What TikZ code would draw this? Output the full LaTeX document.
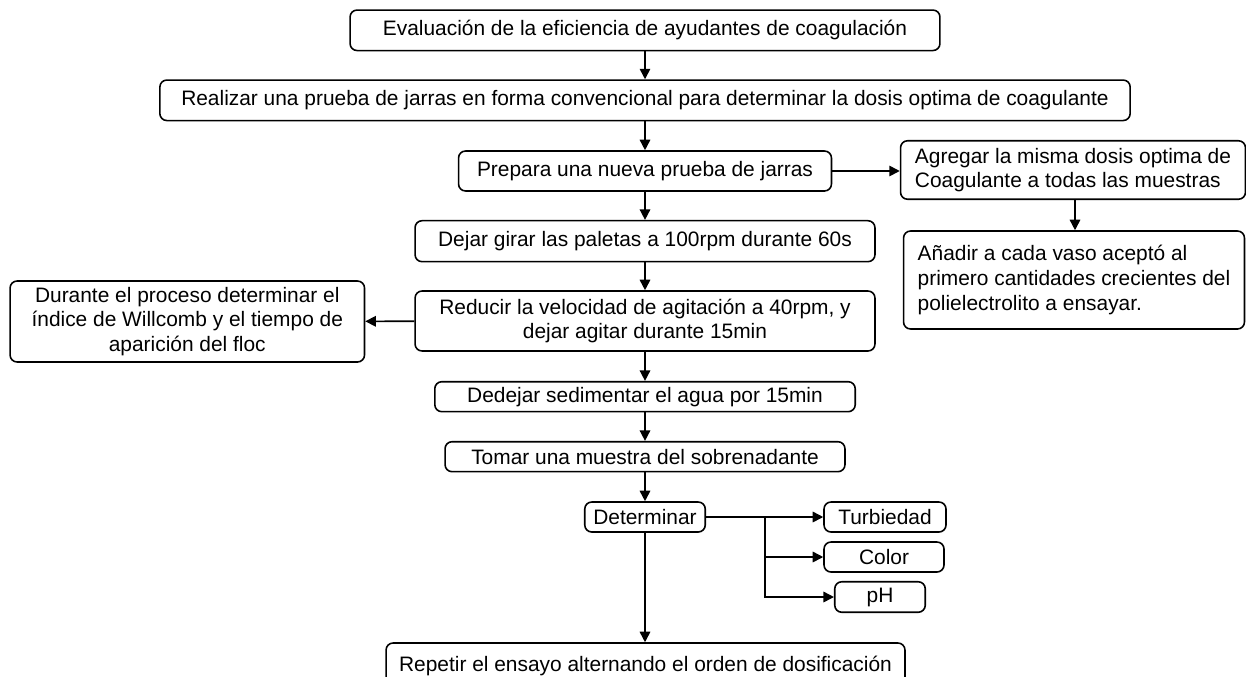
\documentclass[tikz,border=0pt]{standalone}
\usepackage{fontspec}
\setmainfont{Liberation Sans}
\usetikzlibrary{arrows.meta}

\begin{document}
\begin{tikzpicture}[x=0.02cm,y=-0.02cm,line width=0.9pt,
    box/.style={draw,rounded corners=0.14cm,inner sep=2pt,align=center,
      font=\fontsize{11.9}{14}\selectfont},
    >={Triangle[length=0.21cm,width=0.21cm]}]
  \useasboundingbox (0,0) rectangle (1246,676);

  \node[box,minimum width=11.8cm,minimum height=0.81cm] (eval) at (645,30.3)
    {Evaluación de la eficiencia de ayudantes de coagulación};
  \node[box,minimum width=19.41cm,minimum height=0.81cm] (jarras) at (645,100.3)
    {Realizar una prueba de jarras en forma convencional para determinar la dosis optima de coagulante};
  \node[box,minimum width=7.46cm,minimum height=0.8cm] (prepara) at (645,171)
    {Prepara una nueva prueba de jarras};
  \node[box,align=left,minimum width=6.9cm,minimum height=1.17cm] (agregar) at (1073,170)
    {Agregar la misma dosis optima de\\Coagulante a todas las muestras};
  \node[box,align=left,minimum width=6.82cm,minimum height=1.96cm] (anadir) at (1074,280)
    {Añadir a cada vaso aceptó al\\primero cantidades crecientes del\\polielectrolito a ensayar.};
  \node[box,minimum width=9.2cm,minimum height=0.82cm] (girar) at (645,241.2)
    {Dejar girar las paletas a 100rpm durante 60s};
  \node[box,minimum width=9.2cm,minimum height=1.2cm] (reducir) at (645,321)
    {Reducir la velocidad de agitación a 40rpm, y\\dejar agitar durante 15min};
  \node[box,minimum width=7.09cm,minimum height=1.62cm] (durante) at (187.3,321.5)
    {Durante el proceso determinar el\\índice de Willcomb y el tiempo de\\aparición del floc};
  \node[box,minimum width=8.41cm,minimum height=0.6cm] (sedim) at (645,396.7)
    {Dedejar sedimentar el agua por 15min};
  \node[box,minimum width=8cm,minimum height=0.6cm] (tomar) at (645,456.7)
    {Tomar una muestra del sobrenadante};
  \node[box,minimum width=2.41cm,minimum height=0.6cm] (determ) at (645,517)
    {Determinar};
  \node[box,minimum width=2.44cm,minimum height=0.6cm] (turb) at (885,517)
    {Turbiedad};
  \node[box,minimum width=2.4cm,minimum height=0.6cm] (color) at (884,557)
    {Color};
  \node[box,minimum width=1.81cm,minimum height=0.61cm] (ph) at (880,597)
    {pH};
  \node[box,minimum width=10.38cm,minimum height=0.92cm] (repetir) at (645.5,666)
    {Repetir el ensayo alternando el orden de dosificación};

  \coordinate (rama) at (765,517);

  \draw[->] (eval) -- (jarras);
  \draw[->] (jarras) -- (prepara);
  \draw[->] (prepara) -- (girar);
  \draw[->] (girar) -- (reducir);
  \draw[->] (reducir) -- (sedim);
  \draw[->] (sedim) -- (tomar);
  \draw[->] (tomar) -- (determ);
  \draw[->] (determ) -- (repetir.north -| determ);
  \draw[->] (prepara.east) -- (prepara.east -| agregar.west);
  \draw[->] (agregar.south -| 1075,0) -- (anadir.north -| 1075,0);
  \draw[->] (reducir) -- (durante);
  \draw[->] (determ) -- (turb);
  \draw[->] (rama) |- (color);
  \draw[->] (rama) |- (ph);
\end{tikzpicture}
\end{document}
